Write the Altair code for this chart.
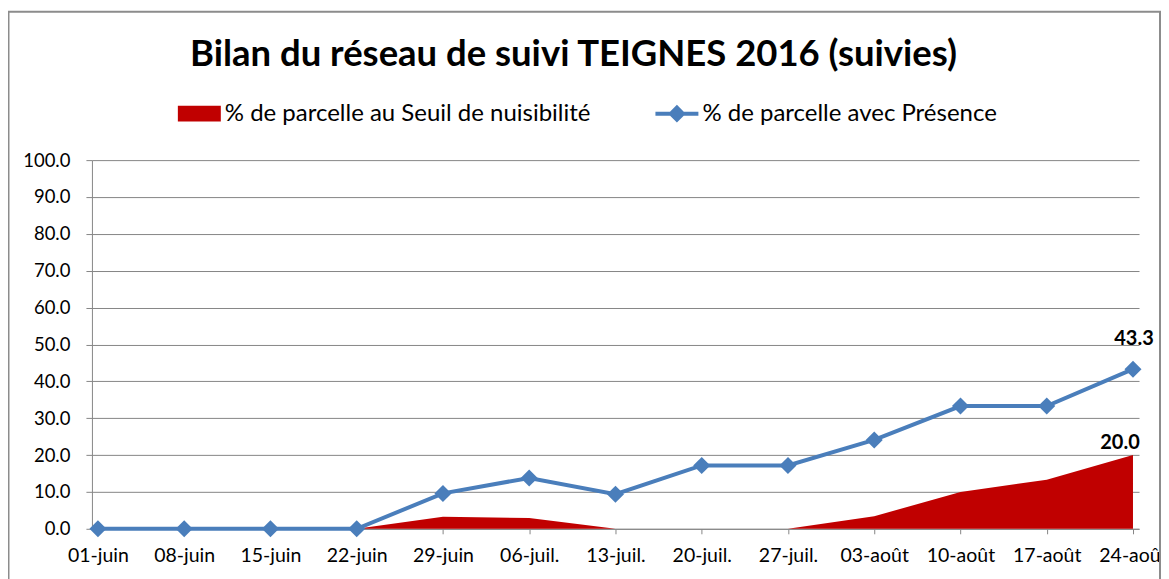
import altair as alt
import pandas as pd

dates = ["01-juin", "08-juin", "15-juin", "22-juin", "29-juin", "06-juil.", "13-juil.",
         "20-juil.", "27-juil.", "03-août", "10-août", "17-août", "24-août"]
seuil = [0.0, 0.0, 0.0, 0.0, 3.3, 2.9, 0.0, 0.0, 0.0, 3.4, 10.0, 13.3, 20.0]
presence = [0.0, 0.0, 0.0, 0.0, 9.6, 13.8, 9.4, 17.2, 17.2, 24.1, 33.3, 33.3, 43.3]
y_ticks = [0, 10, 20, 30, 40, 50, 60, 70, 80, 90, 100]

name_seuil = "% de parcelle au Seuil de nuisibilité"
name_pres = "% de parcelle avec Présence"

df = pd.DataFrame({"date": dates, "seuil": seuil, "presence": presence,
                   "s1": name_seuil, "s2": name_pres})

FONT = "Lato"
xenc = alt.X("date:O", sort=dates, scale=alt.Scale(type="point", padding=0.07),
             axis=alt.Axis(title=None, labelAngle=0, labelFontSize=19.5, labelFont=FONT,
                           labelColor="black", tickSize=5, tickColor="#868686",
                           domainColor="#868686", labelPadding=13, grid=False,
                           labelOverlap=False))
yscale = alt.Scale(domain=[0, 100])
yaxis = alt.Axis(title=None, values=y_ticks, format=".1f", labelFontSize=18.5,
                 labelFont=FONT, labelColor="black", tickSize=6, tickColor="#868686",
                 domainColor="#868686", gridColor="#868686", labelPadding=16,
                 labelOverlap=False)

base = alt.Chart(df)

area = base.mark_area(color="#C00000").encode(
    x=xenc,
    y=alt.Y("seuil:Q", scale=yscale, axis=yaxis),
    fill=alt.Fill("s1:N", scale=alt.Scale(domain=[name_seuil], range=["#C00000"]),
                  legend=alt.Legend(title=None, orient="none", legendX=86, legendY=-68,
                                    symbolType="M-1,-0.37H1V0.37H-1Z", symbolSize=1849,
                                    symbolStrokeWidth=0, labelFontSize=24, labelFont=FONT,
                                    labelColor="black", labelOffset=4, padding=0,
                                    labelLimit=800)),
)

line = base.mark_line(strokeWidth=4).encode(
    x=xenc,
    y=alt.Y("presence:Q", scale=yscale, axis=yaxis),
    stroke=alt.Stroke("s2:N", scale=alt.Scale(domain=[name_pres], range=["#4A7EBB"]),
                      legend=alt.Legend(title=None, orient="none", legendX=562, legendY=-70,
                                        symbolType="M-1,0H1M-0.28,0L0,-0.28L0.28,0L0,0.28Z",
                                        symbolSize=1849, symbolStrokeWidth=4,
                                        symbolFillColor="#4A7EBB",
                                        labelFontSize=24, labelFont=FONT,
                                        labelColor="black", labelOffset=2, padding=0,
                                        labelLimit=800)),
)

points = base.mark_point(shape="diamond", filled=True, size=290, color="#4A7EBB", opacity=1).encode(
    x=xenc, y=alt.Y("presence:Q", scale=yscale, axis=yaxis))

last = base.transform_filter(alt.datum.date == dates[-1])
lab_pres = last.mark_text(fontWeight="bold", fontSize=20, font=FONT, color="black",
                          dx=1, dy=-30).encode(
    x=xenc, y=alt.Y("presence:Q", scale=yscale, axis=yaxis),
    text=alt.Text("presence:Q", format=".1f"))
lab_seuil = last.mark_text(fontWeight="bold", fontSize=20, font=FONT, color="black",
                           dx=-13, dy=-12).encode(
    x=xenc, y=alt.Y("seuil:Q", scale=yscale, axis=yaxis),
    text=alt.Text("seuil:Q", format=".1f"))

frame = alt.Chart(alt.Data(values=[{"a": 1}])).mark_rect(
    filled=False, stroke="#8C8C8C", strokeWidth=2).encode(
    x=alt.value(-83.5), x2=alt.value(1069), y=alt.value(-148.5), y2=alt.value(500))

chart = alt.layer(frame, area, line, points, lab_pres, lab_seuil).properties(
    width=1048, height=369,
    title=alt.TitleParams("Bilan du réseau de suivi TEIGNES 2016 (suivies)", fontSize=36.5,
                          font=FONT, fontWeight="bold", color="black", anchor="middle",
                          dx=-42, offset=-63),
    autosize=alt.AutoSizeParams(type="none"),
    padding={"left": 84, "top": 152, "right": 22, "bottom": 50},
).resolve_scale(fill="independent", stroke="independent").configure_view(stroke=None)

chart.save("out.html", embed_options={"renderer": "svg", "actions": False})
